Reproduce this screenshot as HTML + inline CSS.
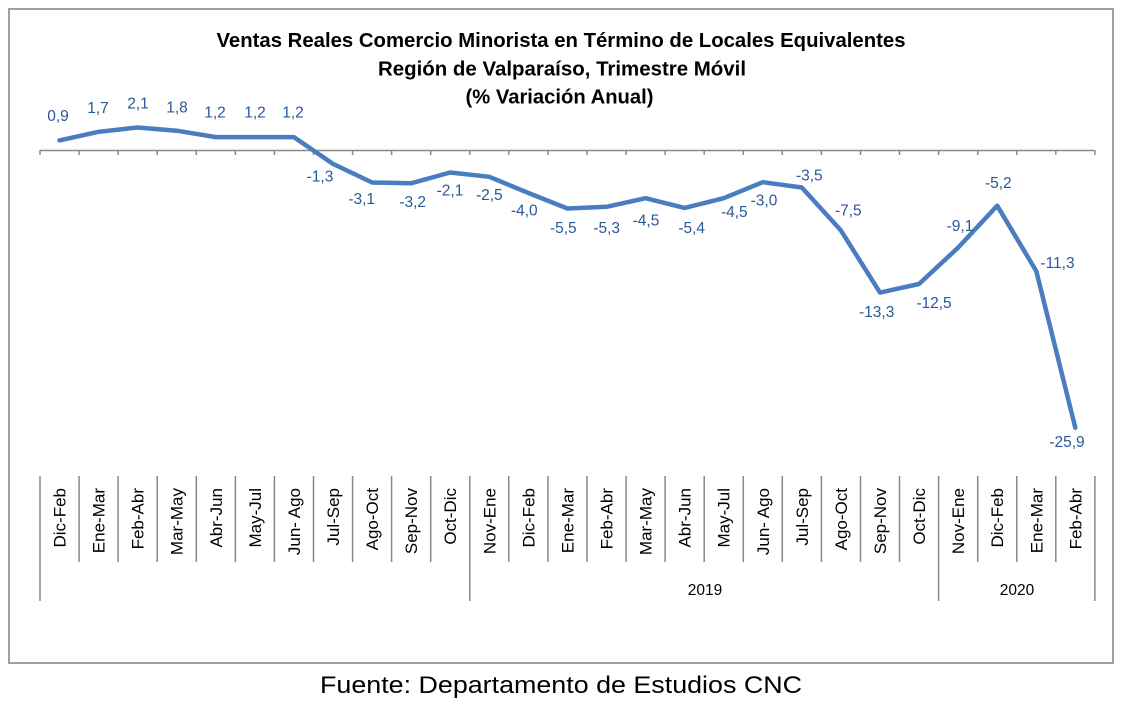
<!DOCTYPE html>
<html>
<head>
<meta charset="utf-8">
<style>
html,body{margin:0;padding:0;background:#fff;}
svg{display:block;}
text{font-family:"Liberation Sans",sans-serif;}
</style>
</head>
<body>
<svg width="1123" height="711" viewBox="0 0 1123 711" xmlns="http://www.w3.org/2000/svg">
<rect x="0" y="0" width="1123" height="711" fill="#fff"/>
<rect x="9" y="9" width="1104" height="654" fill="none" stroke="#a0a0a0" stroke-width="2"/>

<!-- Title -->
<g font-weight="bold" fill="#000" font-size="20" text-anchor="middle">
<text x="561" y="47" textLength="689" lengthAdjust="spacingAndGlyphs">Ventas Reales Comercio Minorista  en Término de Locales Equivalentes</text>
<text x="562" y="75.5" textLength="368" lengthAdjust="spacingAndGlyphs">Región de Valparaíso, Trimestre Móvil</text>
<text x="559.5" y="103.5" textLength="188" lengthAdjust="spacingAndGlyphs">(% Variación Anual)</text>
</g>

<!-- Axis -->
<g stroke="#888" stroke-width="1.5" fill="none">
<line x1="40" y1="150.5" x2="1095" y2="150.5"/>
<path d="M40 150V155M79.1 150V155M118.1 150V155M157.2 150V155M196.3 150V155M235.4 150V155M274.4 150V155M313.5 150V155M352.6 150V155M391.6 150V155M430.7 150V155M469.8 150V155M508.8 150V155M547.9 150V155M587 150V155M626.1 150V155M665.1 150V155M704.2 150V155M743.3 150V155M782.3 150V155M821.4 150V155M860.5 150V155M899.5 150V155M938.6 150V155M977.7 150V155M1016.8 150V155M1055.8 150V155M1094.9 150V155"/>
<path d="M40 476V601M79.1 476V562M118.1 476V562M157.2 476V562M196.3 476V562M235.4 476V562M274.4 476V562M313.5 476V562M352.6 476V562M391.6 476V562M430.7 476V562M469.8 476V601M508.8 476V562M547.9 476V562M587 476V562M626.1 476V562M665.1 476V562M704.2 476V562M743.3 476V562M782.3 476V562M821.4 476V562M860.5 476V562M899.5 476V562M938.6 476V601M977.7 476V562M1016.8 476V562M1055.8 476V562M1094.9 476V601"/>
</g>

<!-- Category labels -->
<g font-size="17" fill="#000" text-anchor="end">
<text transform="translate(65.5,488) rotate(-90)">Dic-Feb</text>
<text transform="translate(104.6,488) rotate(-90)">Ene-Mar</text>
<text transform="translate(143.6,488) rotate(-90)">Feb-Abr</text>
<text transform="translate(182.7,488) rotate(-90)">Mar-May</text>
<text transform="translate(221.8,488) rotate(-90)">Abr-Jun</text>
<text transform="translate(260.9,488) rotate(-90)">May-Jul</text>
<text transform="translate(299.9,488) rotate(-90)">Jun- Ago</text>
<text transform="translate(339,488) rotate(-90)">Jul-Sep</text>
<text transform="translate(378.1,488) rotate(-90)">Ago-Oct</text>
<text transform="translate(417.1,488) rotate(-90)">Sep-Nov</text>
<text transform="translate(456.2,488) rotate(-90)">Oct-Dic</text>
<text transform="translate(495.3,488) rotate(-90)">Nov-Ene</text>
<text transform="translate(534.3,488) rotate(-90)">Dic-Feb</text>
<text transform="translate(573.4,488) rotate(-90)">Ene-Mar</text>
<text transform="translate(612.5,488) rotate(-90)">Feb-Abr</text>
<text transform="translate(651.6,488) rotate(-90)">Mar-May</text>
<text transform="translate(690.6,488) rotate(-90)">Abr-Jun</text>
<text transform="translate(729.7,488) rotate(-90)">May-Jul</text>
<text transform="translate(768.8,488) rotate(-90)">Jun- Ago</text>
<text transform="translate(807.8,488) rotate(-90)">Jul-Sep</text>
<text transform="translate(846.9,488) rotate(-90)">Ago-Oct</text>
<text transform="translate(886,488) rotate(-90)">Sep-Nov</text>
<text transform="translate(925,488) rotate(-90)">Oct-Dic</text>
<text transform="translate(964.1,488) rotate(-90)">Nov-Ene</text>
<text transform="translate(1003.2,488) rotate(-90)">Dic-Feb</text>
<text transform="translate(1042.3,488) rotate(-90)">Ene-Mar</text>
<text transform="translate(1081.3,488) rotate(-90)">Feb-Abr</text>
</g>

<!-- Year labels -->
<g font-size="15.5" fill="#000" text-anchor="middle">
<text x="705" y="595">2019</text>
<text x="1017" y="595">2020</text>
</g>

<!-- Series -->
<polyline fill="none" stroke="#4a7dc0" stroke-width="4.5" stroke-linejoin="round" stroke-linecap="round"
points="59.5,140.4 98.6,131.8 137.6,127.5 176.7,130.7 215.8,137.1 254.9,137.1 293.9,137.1 333,163.9 372.1,182.5 411.1,183.3 450.2,172.5 489.3,176.8 528.3,192.9 567.4,208.5 606.5,206.8 645.6,198.2 684.6,207.9 723.7,198.2 762.8,182.2 801.8,187.5 840.9,230.4 880,292.6 919,284 958.1,247.6 997.2,205.7 1036.3,271.1 1075.3,427.7"/>

<!-- Data labels -->
<g font-size="15.5" fill="#2b5797" text-anchor="middle">
<text x="58" y="121">0,9</text>
<text x="98" y="113">1,7</text>
<text x="138" y="108.5">2,1</text>
<text x="177" y="112.5">1,8</text>
<text x="215" y="117.5">1,2</text>
<text x="255" y="117.5">1,2</text>
<text x="293" y="117.5">1,2</text>
<text x="320" y="181.5">-1,3</text>
<text x="361.7" y="203.8">-3,1</text>
<text x="412.7" y="207">-3,2</text>
<text x="450" y="195.5">-2,1</text>
<text x="489.3" y="199.8">-2,5</text>
<text x="524.3" y="215.5">-4,0</text>
<text x="563.3" y="232.8">-5,5</text>
<text x="606.7" y="232.8">-5,3</text>
<text x="646" y="225.5">-4,5</text>
<text x="691.7" y="232.8">-5,4</text>
<text x="734.3" y="217">-4,5</text>
<text x="764" y="205.5">-3,0</text>
<text x="809.3" y="180.5">-3,5</text>
<text x="848.3" y="215.5">-7,5</text>
<text x="876.7" y="317">-13,3</text>
<text x="934" y="308">-12,5</text>
<text x="960" y="231">-9,1</text>
<text x="998.3" y="188">-5,2</text>
<text x="1057.5" y="268">-11,3</text>
<text x="1067" y="447">-25,9</text>
</g>

<!-- Source -->
<text x="320" y="693" font-size="24" fill="#000" textLength="482" lengthAdjust="spacingAndGlyphs">Fuente: Departamento de Estudios CNC</text>
</svg>
</body>
</html>
